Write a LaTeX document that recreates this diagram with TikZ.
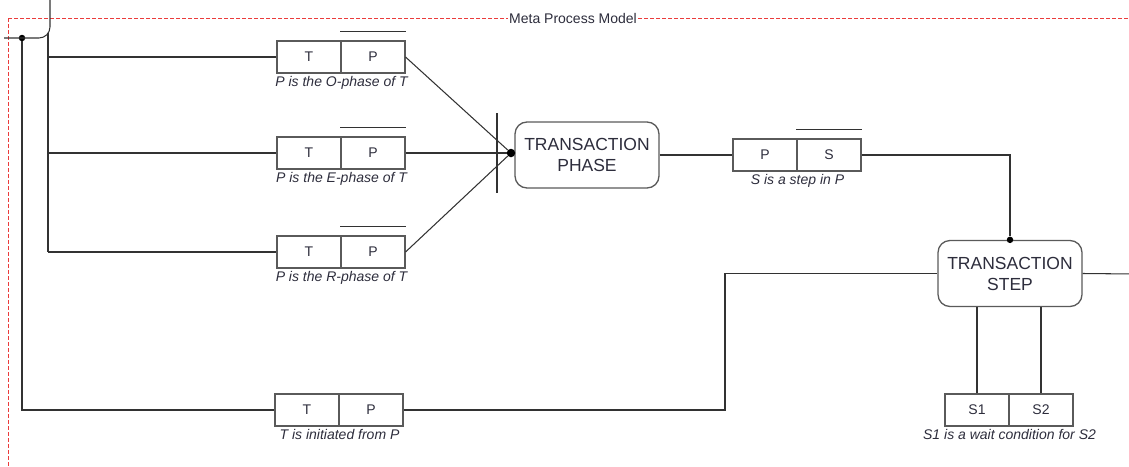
\documentclass[tikz,border=0pt]{standalone}
\usepackage{fontspec}
\setmainfont{Liberation Sans}
\usetikzlibrary{calc}
\definecolor{ink}{RGB}{45,45,60}
\definecolor{wire}{RGB}{50,50,50}
\definecolor{boxline}{RGB}{90,90,90}
\definecolor{framered}{RGB}{235,60,60}
\begin{document}
\begin{tikzpicture}[x=1pt,y=-1pt,
  wire/.style={draw=wire, line width=1.05pt},
  cell/.style={draw=boxline, line width=1.05pt, minimum width=64pt, minimum height=32pt,
    inner sep=0pt, font=\fontsize{14}{16}\selectfont, text=ink},
  lbl/.style={font=\fontsize{14}{16}\selectfont\itshape, text=ink, inner sep=2.5pt, anchor=north},
  entity/.style={draw=boxline, line width=1.3pt, rounded corners=12pt, minimum width=144pt,
    minimum height=66pt, align=center, inner sep=0pt,
    font=\fontsize{17.5}{21}\selectfont, text=ink, fill=white},
  dot/.style={circle, fill=black, inner sep=0pt, minimum size=#1}]
\useasboundingbox (0,0) rectangle (1129,466);
\clip (0,0) rectangle (1129,466);

% model boundary
\draw[draw=framered, dash pattern=on 4pt off 2pt, line width=0.8pt] (8,18) rectangle (1200,520);
\node[fill=white, inner sep=1pt, font=\fontsize{14}{16}\selectfont, text=ink] (title) at (573,18) {Meta Process Model};

% entity types
\node[entity] (phase) at (587,155) {TRANSACTION\\PHASE};
\node[entity] (step) at (1010,273.5) {TRANSACTION\\STEP};

% fact types (two roles each)
\node[cell] (o1) at (309,57) {T};
\node[cell] (o2) at (373,57) {P};
\node[cell] (e1) at (309,153) {T};
\node[cell] (e2) at (373,153) {P};
\node[cell] (r1) at (309,252) {T};
\node[cell] (r2) at (373,252) {P};
\node[cell] (b1) at (307,410) {T};
\node[cell] (b2) at (371,410) {P};
\node[cell] (p1) at (765,155) {P};
\node[cell] (p2) at (829,155) {S};
\node[cell] (s1) at (977,410) {S1};
\node[cell] (s2) at (1041,410) {S2};

% uniqueness bars
\foreach \c in {o2,e2,r2,p2}
  \draw[wire] ([yshift=9pt]\c.north west) -- ([yshift=9pt]\c.north east);

% fact type labels
\node[lbl] (lo) at (o1.south east) {P is the O-phase of T};
\node[lbl] (le) at (e1.south east) {P is the E-phase of T};
\node[lbl] (lr) at (r1.south east) {P is the R-phase of T};
\node[lbl] (lb) at (b1.south east) {T is initiated from P};
\node[lbl] (lp) at (p1.south east) {S is a step in P};
\node[lbl] (ls) at (s1.south east) {S1 is a wait condition for S2};

% incoming link from the left
\coordinate (top) at (50,0);
\coordinate (west) at (4,38);
\coordinate (spine) at (48,33);
\node[dot=6.5pt] (j) at (22,38) {};
\draw[wire, rounded corners=11pt] (top) -- (50,38) -- (west);
\draw[wire] (spine) -- (spine |- r1.west);
\draw[wire] (spine |- o1.west) -- (o1.west);
\draw[wire] (spine |- e1.west) -- (e1.west);
\draw[wire] (spine |- r1.west) -- (r1.west);
\draw[wire] (j) -- (j |- b1.west) -- (b1.west);

% phase roles joined at the phase entity
\node[dot=8.5pt] (hub) at (511,153) {};
\coordinate (barT) at (497,113);
\coordinate (barB) at (497,193);
\draw[wire] (barT) -- (barB);
\draw[wire] (o2.east) -- (hub);
\draw[wire] (e2.east) -- (hub);
\draw[wire] (r2.east) -- (hub);

% phase - step
\draw[wire] (phase.east) -- (p1.west);
\node[dot=6.5pt] (sdot) at (step.north) {};
\draw[wire] (p2.east) -| (sdot);

% initiation
\coordinate (kink) at (725,410);
\draw[wire] (b2.east) -- (kink) |- (step.west);

% wait condition
\draw[wire] (s1.north) -- (s1.north |- step.south);
\draw[wire] (s2.north) -- (s2.north |- step.south);

% outgoing link to the right
\coordinate (east) at (1135,274);
\draw[wire] (step.east) -- (east);
\end{tikzpicture}
\end{document}
